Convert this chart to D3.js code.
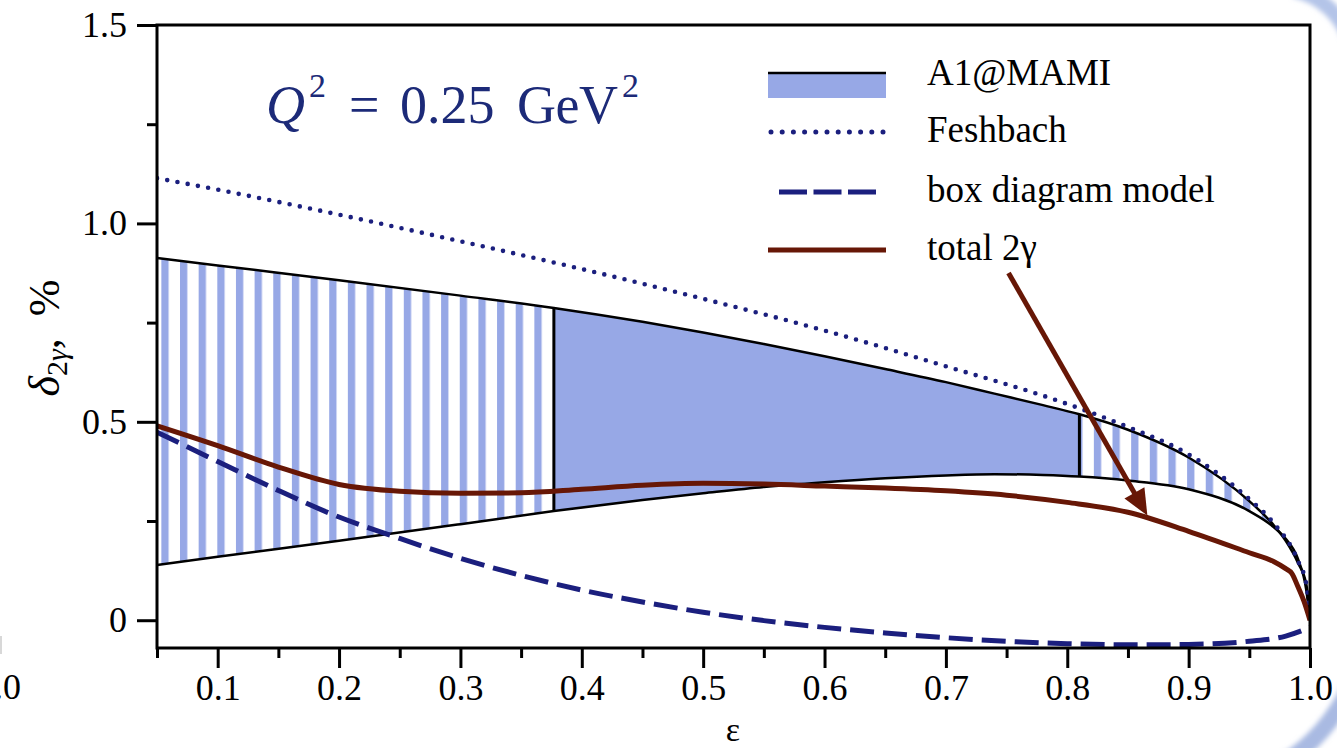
<!DOCTYPE html>
<html>
<head>
<meta charset="utf-8">
<script src="https://cdn.jsdelivr.net/npm/d3@7"></script>
<style>
	body { margin: 0; background: #fff; }
	svg { display: block; }
	text { font-family: "Liberation Serif", Tinos, "Times New Roman", Times, serif; }
</style>
</head>
<body>
<svg id="chart" width="1337" height="748" font-family="Liberation Serif, Tinos, Times New Roman, serif"></svg>
<script>
// Two-photon exchange correction vs epsilon, Q^2 = 0.25 GeV^2.

var serif = 'Liberation Serif, Tinos, Times New Roman, serif';

// A1@MAMI band (upper / lower edge).
var bandEps   = [0.05, 0.1, 0.2, 0.3, 0.377, 0.45, 0.5, 0.55, 0.6, 0.65, 0.7, 0.74, 0.78, 0.81, 0.85, 0.9, 0.95, 0.97, 0.98, 0.99, 0.997, 1.0];
var bandUpper = [0.913, 0.894, 0.857, 0.818, 0.787, 0.752, 0.725, 0.696, 0.665, 0.633, 0.6, 0.571, 0.542, 0.519, 0.48, 0.41, 0.3, 0.24, 0.2, 0.145, 0.09, 0.0];
var bandLower = [0.139, 0.16, 0.2, 0.242, 0.275, 0.303, 0.32, 0.336, 0.348, 0.358, 0.365, 0.368, 0.366, 0.362, 0.352, 0.33, 0.275, 0.235, 0.205, 0.155, 0.075, 0.0];
// Range of epsilon covered by the measurement (solid part of the band).
var measuredEps = [0.377, 0.81];

// Feshbach.
var feshEps  = [0.05, 0.1, 0.2, 0.3, 0.4, 0.5, 0.6, 0.7, 0.8, 0.85, 0.9, 0.95, 0.97, 0.99, 0.997, 1.0];
var feshVals = [1.114, 1.085, 1.022, 0.955, 0.885, 0.81, 0.73, 0.64, 0.545, 0.487, 0.418, 0.305, 0.245, 0.15, 0.09, 0.0];

// Box diagram model.
var boxEps  = [0.05, 0.1, 0.15, 0.2, 0.25, 0.3, 0.35, 0.4, 0.45, 0.5, 0.55, 0.6, 0.65, 0.7, 0.75, 0.8, 0.85, 0.9, 0.95, 0.98, 1.0];
var boxVals = [0.474, 0.4, 0.327, 0.26, 0.206, 0.156, 0.113, 0.076, 0.046, 0.02, -0.001, -0.018, -0.032, -0.044, -0.053, -0.059, -0.062, -0.061, -0.053, -0.04, -0.018];

// Total 2 gamma.
var totalEps  = [0.05, 0.1, 0.15, 0.2, 0.25, 0.3, 0.35, 0.4, 0.45, 0.5, 0.55, 0.6, 0.65, 0.7, 0.75, 0.8, 0.85, 0.9, 0.95, 0.97, 0.98, 0.985, 0.99, 0.995, 1.0];
var totalVals = [0.49, 0.44, 0.386, 0.342, 0.325, 0.32, 0.321, 0.33, 0.34, 0.345, 0.343, 0.338, 0.333, 0.326, 0.315, 0.297, 0.272, 0.224, 0.17, 0.148, 0.13, 0.118, 0.085, 0.048, 0.0];

// Arrow from the legend entry to the total curve: [eps, delta].
var arrowFrom = [0.7516, 0.875];
var arrowTo   = [0.866, 0.264];

// Axis ticks.
var xMajor = [0.1, 0.2, 0.3, 0.4, 0.5, 0.6, 0.7, 0.8, 0.9, 1.0];
var xMinor = [0.05, 0.15, 0.25, 0.35, 0.45, 0.55, 0.65, 0.75, 0.85, 0.95];
var yMajor = [0, 0.5, 1.0, 1.5];
var yMinor = [0.25, 0.75, 1.25];

var legendLabels = ['A1@MAMI', 'Feshbach', 'box diagram model', 'total 2\u03b3'];

var navy = '#1b1f7e', brown = '#671706', bandBlue = '#97a8e6';

var svg = d3.select('#chart');
var x = d3.scaleLinear().domain([0.05, 1.0]).range([157, 1310]);
var y = d3.scaleLinear().domain([-0.07, 1.5]).range([648, 25]);

var defs = svg.append('defs');
// Vertical stripes for the extrapolated parts of the band.
var pat = defs.append('pattern')
	.attr('id', 'stripes')
	.attr('patternUnits', 'userSpaceOnUse')
	.attr('x', x(0.05) + 4.35).attr('y', 0)
	.attr('width', 18.65).attr('height', 10);
pat.append('rect').attr('width', 18.65).attr('height', 10).attr('fill', '#fff');
pat.append('rect').attr('width', 7.3).attr('height', 10).attr('fill', bandBlue);

defs.append('clipPath').attr('id', 'plot-clip')
	.append('rect')
	.attr('x', x(0.05)).attr('y', y(1.5))
	.attr('width', x(1.0) - x(0.05)).attr('height', y(-0.07) - y(1.5));
defs.append('clipPath').attr('id', 'measured-clip')
	.append('rect')
	.attr('x', x(measuredEps[0])).attr('y', y(1.5))
	.attr('width', x(measuredEps[1]) - x(measuredEps[0])).attr('height', y(-0.07) - y(1.5));
defs.append('filter').attr('id', 'soft')
	.append('feGaussianBlur').attr('stdDeviation', 2.5);

// Light blue slide border in the corners.
svg.append('path')
	.attr('d', 'M1294,-10 Q1336,0 1352,44')
	.attr('fill', 'none').attr('stroke', '#b4c4e8').attr('stroke-width', 15)
	.attr('filter', 'url(#soft)');
svg.append('path')
	.attr('d', 'M1282,764 Q1326,738 1352,684')
	.attr('fill', 'none').attr('stroke', '#a9bae2').attr('stroke-width', 17)
	.attr('filter', 'url(#soft)');

// Left-over tick label of the neighbouring panel.
svg.append('rect').attr('x', 0).attr('y', 636).attr('width', 2).attr('height', 18).attr('fill', '#d8d8d8');
svg.append('text').attr('x', 21).attr('y', 699).attr('text-anchor', 'end')
	.attr('font-family', serif).attr('font-size', 36).text('1.0');

var plot = svg.append('g').attr('clip-path', 'url(#plot-clip)');

var bandData = bandEps.map(function(e, i) { return {e: e, lo: bandLower[i], hi: bandUpper[i]}; });
var band = d3.area()
	.x(function(d) { return x(d.e); })
	.y0(function(d) { return y(d.lo); })
	.y1(function(d) { return y(d.hi); })
	.curve(d3.curveMonotoneX);

plot.append('path').datum(bandData).attr('d', band).attr('fill', 'url(#stripes)');
plot.append('path').datum(bandData).attr('d', band).attr('fill', bandBlue)
	.attr('clip-path', 'url(#measured-clip)');

function curve(xs, ys) {
	var line = d3.line()
		.x(function(d) { return x(d[0]); })
		.y(function(d) { return y(d[1]); })
		.curve(d3.curveMonotoneX);
	return line(xs.map(function(e, i) { return [e, ys[i]]; }));
}

plot.append('path').attr('d', curve(bandEps, bandUpper))
	.attr('fill', 'none').attr('stroke', '#000').attr('stroke-width', 2.5);
plot.append('path').attr('d', curve(bandEps, bandLower))
	.attr('fill', 'none').attr('stroke', '#000').attr('stroke-width', 2.5);

// Edges of the measured range.
measuredEps.forEach(function(e) {
	var i = bandEps.indexOf(e);
	plot.append('line')
		.attr('x1', x(e)).attr('x2', x(e))
		.attr('y1', y(bandLower[i])).attr('y2', y(bandUpper[i]))
		.attr('stroke', '#000').attr('stroke-width', 3);
});

plot.append('path').attr('d', curve(feshEps, feshVals))
	.attr('fill', 'none').attr('stroke', navy).attr('stroke-width', 4.6)
	.attr('stroke-linecap', 'round').attr('stroke-dasharray', '0,10.4');
plot.append('path').attr('d', curve(boxEps, boxVals))
	.attr('fill', 'none').attr('stroke', navy).attr('stroke-width', 5)
	.attr('stroke-dasharray', '24,9');
plot.append('path').attr('d', curve(totalEps, totalVals))
	.attr('fill', 'none').attr('stroke', brown).attr('stroke-width', 5);

// Arrow.
(function() {
	var x0 = x(arrowFrom[0]), y0 = y(arrowFrom[1]);
	var x1 = x(arrowTo[0]), y1 = y(arrowTo[1]);
	var dx = x1 - x0, dy = y1 - y0, len = Math.sqrt(dx * dx + dy * dy);
	var ux = dx / len, uy = dy / len;
	var headLen = 26, headHalf = 11.5;
	var bx = x1 - ux * headLen, by = y1 - uy * headLen;
	svg.append('line')
		.attr('x1', x0).attr('y1', y0).attr('x2', bx + ux * 2).attr('y2', by + uy * 2)
		.attr('stroke', brown).attr('stroke-width', 5);
	svg.append('path')
		.attr('d', 'M' + x1 + ',' + y1 +
			'L' + (bx - uy * headHalf) + ',' + (by + ux * headHalf) +
			'L' + (bx + uy * headHalf) + ',' + (by - ux * headHalf) + 'Z')
		.attr('fill', brown);
})();

// Axes.
function styleAxis(g) {
	g.attr('font-family', serif);
	g.select('.domain').remove();
	g.selectAll('.tick line').attr('stroke', '#000').attr('stroke-width', 3);
	g.selectAll('.tick text').attr('fill', '#000').attr('font-size', 36)
		.attr('font-family', serif);
}
svg.append('g').attr('transform', 'translate(0,' + y(-0.07) + ')')
	.call(d3.axisBottom(x).tickValues(xMinor).tickSize(10).tickFormat(''))
	.call(styleAxis);
svg.append('g').attr('transform', 'translate(0,' + y(-0.07) + ')')
	.call(d3.axisBottom(x).tickValues(xMajor).tickSize(20).tickPadding(6).tickFormat(d3.format('.1f')))
	.call(styleAxis);
svg.append('g').attr('transform', 'translate(' + x(0.05) + ',0)')
	.call(d3.axisLeft(y).tickValues(yMinor).tickSize(10).tickFormat(''))
	.call(styleAxis);
svg.append('g').attr('transform', 'translate(' + x(0.05) + ',0)')
	.call(d3.axisLeft(y).tickValues(yMajor).tickSize(20).tickPadding(10)
		.tickFormat(function(d) { return d === 0 ? '0' : d3.format('.1f')(d); }))
	.call(styleAxis);

svg.append('rect')
	.attr('x', x(0.05)).attr('y', y(1.5))
	.attr('width', x(1.0) - x(0.05)).attr('height', y(-0.07) - y(1.5))
	.attr('fill', 'none').attr('stroke', '#000').attr('stroke-width', 3);

// Axis titles.
svg.append('text').attr('x', 733).attr('y', 741).attr('text-anchor', 'middle')
	.attr('font-family', serif).attr('font-size', 34).text('\u03b5');

var yTitle = svg.append('text')
	.attr('transform', 'translate(59,338) rotate(-90)')
	.attr('text-anchor', 'middle').attr('font-family', serif).attr('font-size', 44);
yTitle.append('tspan').attr('font-style', 'italic').text('\u03b4');
yTitle.append('tspan').attr('font-size', 30).attr('dy', 8).text('2');
yTitle.append('tspan').attr('font-size', 30).attr('font-style', 'italic').text('\u03b3');
yTitle.append('tspan').attr('dy', -8).text(',');
yTitle.append('tspan').attr('dx', 22).text('%');

// Q^2 annotation.
var qText = svg.append('text').attr('y', 123).attr('fill', '#1c2a78')
	.attr('font-family', serif).attr('font-size', 54);
qText.append('tspan').attr('x', 266).attr('font-style', 'italic').text('Q');
qText.append('tspan').attr('x', 309).attr('y', 97).attr('font-size', 34).text('2');
qText.append('tspan').attr('x', 349).attr('y', 123).attr('textLength', 36).text('=');
qText.append('tspan').attr('x', 400).text('0.25');
qText.append('tspan').attr('x', 517).attr('textLength', 101).text('GeV');
qText.append('tspan').attr('x', 622).attr('y', 97).attr('font-size', 34).text('2');

// Legend.
var legend = svg.append('g');
legend.append('rect').attr('x', 768).attr('y', 73).attr('width', 118).attr('height', 25).attr('fill', bandBlue);
legend.append('line').attr('x1', 768).attr('x2', 886).attr('y1', 73).attr('y2', 73)
	.attr('stroke', '#000').attr('stroke-width', 2.5);
legend.append('line').attr('x1', 771).attr('x2', 884).attr('y1', 132).attr('y2', 132)
	.attr('stroke', navy).attr('stroke-width', 5).attr('stroke-linecap', 'round')
	.attr('stroke-dasharray', '0,11.2');
legend.append('line').attr('x1', 779).attr('x2', 876).attr('y1', 192).attr('y2', 192)
	.attr('stroke', navy).attr('stroke-width', 5).attr('stroke-dasharray', '28,6.5');
legend.append('line').attr('x1', 768).attr('x2', 886).attr('y1', 250).attr('y2', 250)
	.attr('stroke', brown).attr('stroke-width', 5);

var legendBaselines = [85, 142, 202, 260];
legend.selectAll('text.label').data(legendLabels).enter().append('text')
	.attr('class', 'label')
	.attr('x', 927)
	.attr('y', function(d, i) { return legendBaselines[i]; })
	.attr('font-family', serif)
	.attr('font-size', 37)
	.text(function(d) { return d; });
</script>
</body>
</html>
